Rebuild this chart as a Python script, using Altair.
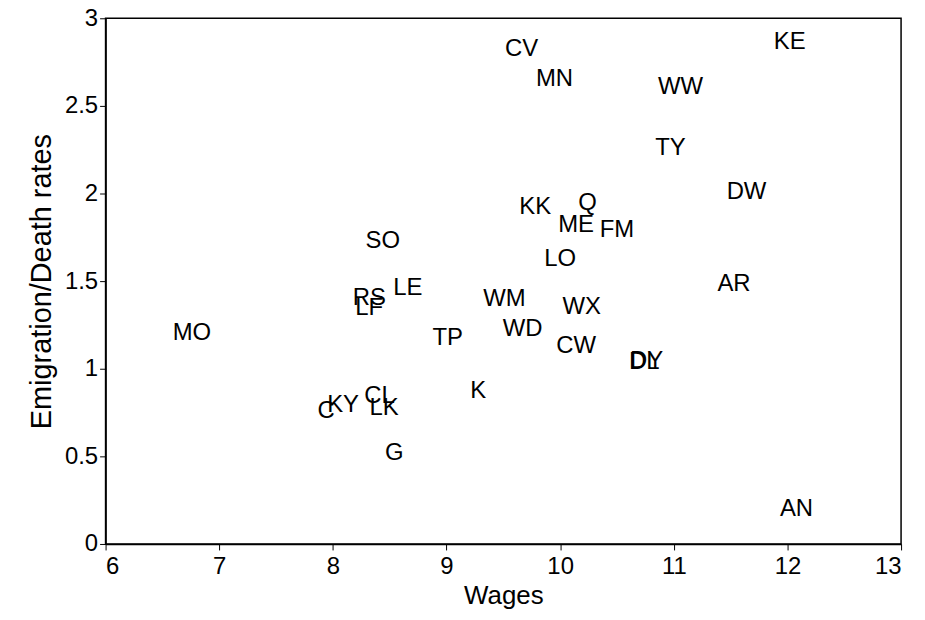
import altair as alt
import pandas as pd

labels = ["CV", "MN", "KE", "WW", "TY", "DW", "KK", "Q", "ME", "FM", "SO", "LO",
          "LE", "AR", "RS", "LF", "WM", "WX", "MO", "TP", "WD", "CW", "DL", "DY",
          "K", "CL", "LK", "KY", "C", "G", "AN"]
wages = [9.66, 9.95, 12.02, 11.06, 10.97, 11.64, 9.78, 10.24, 10.14, 10.50, 8.44, 10.00,
         8.66, 11.53, 8.32, 8.32, 9.51, 10.19, 6.76, 9.01, 9.67, 10.14, 10.74, 10.76,
         9.28, 8.41, 8.45, 8.09, 7.94, 8.54, 12.08]
rates = [2.825, 2.656, 2.865, 2.605, 2.261, 2.008, 1.923, 1.946, 1.821, 1.793, 1.731, 1.624,
         1.461, 1.483, 1.404, 1.348, 1.399, 1.353, 1.201, 1.173, 1.229, 1.128, 1.038, 1.043,
         0.874, 0.846, 0.773, 0.795, 0.761, 0.519, 0.197]

x_ticks = [6, 7, 8, 9, 10, 11, 12, 13]
y_ticks = [0, 0.5, 1, 1.5, 2, 2.5, 3]

df = pd.DataFrame({"label": labels, "wages": wages, "rate": rates})

FONT = "Liberation Sans"

chart = alt.Chart(df).mark_text(
    font=FONT, fontSize=24, color="black", align="center", baseline="middle"
).encode(
    x=alt.X("wages:Q", scale=alt.Scale(domain=[6, 13], nice=False, zero=False),
            axis=alt.Axis(values=x_ticks, title="Wages", format="~g")),
    y=alt.Y("rate:Q", scale=alt.Scale(domain=[0, 3], nice=False),
            axis=alt.Axis(values=y_ticks, title="Emigration/Death rates", format="~g")),
    text="label:N",
).properties(
    width=799, height=528,
    autosize=alt.AutoSizeParams(type="none"),
    padding={"left": 98, "top": 9, "right": 16, "bottom": 66},
).configure_view(
    stroke="black", strokeWidth=1.5
).configure_axis(
    grid=False, domainColor="black", domainWidth=1.5, tickColor="black",
    tickSize=6, tickWidth=1, labelFont=FONT, labelFontSize=24, labelColor="black",
    titleFont=FONT, titleFontSize=26, titleColor="black", titleFontWeight="normal",
    labelPadding=2
).configure_axisY(
    titlePadding=8, titleFontSize=29
).configure_axisX(
    titlePadding=4, labelPadding=5
)

chart.save("out.html", embed_options={"renderer": "svg", "actions": False})
